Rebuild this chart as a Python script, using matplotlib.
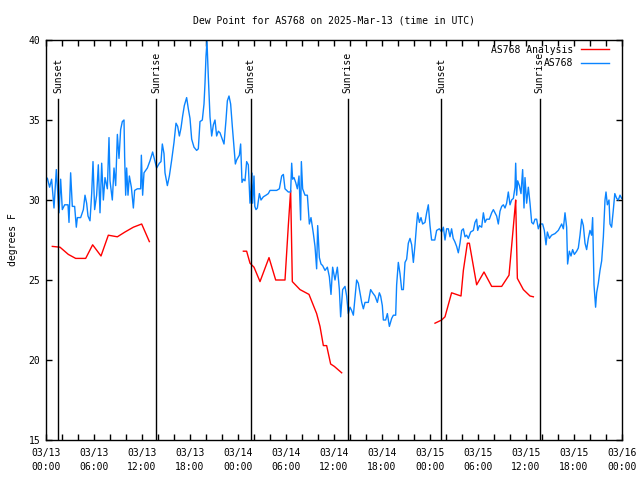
import matplotlib
matplotlib.use("Agg")
import matplotlib.pyplot as plt
from matplotlib.ticker import MultipleLocator

plt.rcParams['font.family'] = ['DejaVu Sans Mono']

title = "Dew Point for AS768 on 2025-Mar-13 (time in UTC)"
ylabel = "degrees F"

# hours since 2025-03-13 00:00 UTC
blue_hours = [0.0, 0.17, 0.45, 0.7, 1.0, 1.29, 1.625, 1.83, 2.04, 2.33, 2.75, 2.875, 3.08, 3.29, 3.58, 3.79, 3.92,
              4.33, 4.67, 4.875, 5.08, 5.25, 5.5, 5.71, 5.875, 6.08, 6.33, 6.54, 6.75, 6.96, 7.17, 7.375, 7.67,
              7.875, 8.0, 8.29, 8.5, 8.71, 8.92, 9.125, 9.33, 9.54, 9.75, 9.83, 9.96, 10.08, 10.25, 10.42, 10.67,
              10.92, 11.08, 11.42, 11.83, 11.92, 12.08, 12.25, 12.67, 13.0, 13.33, 13.625, 13.83, 14.17, 14.375,
              14.54, 14.75, 14.875, 15.17, 15.42, 15.71, 16.0, 16.25, 16.46, 16.67, 16.875, 17.08, 17.29, 17.58,
              17.79, 18.0, 18.21, 18.5, 18.83, 19.04, 19.25, 19.54, 19.75, 19.875, 20.0, 20.125, 20.29, 20.5,
              20.71, 20.92, 21.125, 21.33, 21.54, 21.75, 21.96, 22.25, 22.5, 22.67, 22.875, 23.08, 23.29, 23.5,
              23.67, 23.83, 24.17, 24.33, 24.5, 24.67, 24.875, 25.08, 25.29, 25.5, 25.625, 25.71, 25.83, 26.0,
              26.1, 26.25, 26.42, 26.67, 26.875, 27.17, 27.5, 27.79, 28.0, 28.42, 28.83, 29.17, 29.46, 29.67,
              29.875, 30.29, 30.58, 30.71, 30.83, 31.0, 31.21, 31.42, 31.625, 31.83, 31.92, 32.08, 32.375, 32.67,
              32.92, 33.125, 33.42, 33.625, 33.83, 33.96, 34.17, 34.375, 34.58, 34.875, 35.17, 35.42, 35.625,
              35.83, 36.125, 36.42, 36.67, 36.83, 37.08, 37.375, 37.58, 37.79, 38.0, 38.2, 38.42, 38.625, 38.83,
              39.04, 39.25, 39.46, 39.67, 39.875, 40.29, 40.58, 40.83, 41.125, 41.42, 41.67, 41.83, 42.04, 42.17,
              42.46, 42.67, 42.92, 43.21, 43.42, 43.71, 43.83, 44.04, 44.25, 44.46, 44.67, 44.875, 45.08, 45.29,
              45.5, 45.71, 45.92, 46.125, 46.33, 46.46, 46.67, 46.875, 47.08, 47.375, 47.58, 47.79, 48.0, 48.2,
              48.6, 48.83, 49.17, 49.46, 49.67, 49.875, 50.08, 50.29, 50.5, 50.7, 50.9, 51.1, 51.33, 51.54, 51.75,
              51.96, 52.17, 52.375, 52.58, 52.79, 53.08, 53.42, 53.625, 53.83, 53.96, 54.17, 54.46, 54.67, 54.875,
              55.08, 55.42, 55.71, 55.92, 56.125, 56.33, 56.54, 56.75, 56.96, 57.17, 57.375, 57.58, 57.79, 58.0,
              58.2, 58.42, 58.625, 58.71, 58.83, 58.96, 59.17, 59.375, 59.58, 59.75, 59.875, 60.08, 60.29, 60.5,
              60.71, 60.92, 61.125, 61.33, 61.54, 61.75, 62.08, 62.29, 62.5, 62.67, 62.92, 63.2, 63.625, 64.04,
              64.46, 64.67, 64.875, 65.08, 65.2, 65.42, 65.625, 65.83, 66.04, 66.33, 66.54, 66.75, 66.96, 67.17,
              67.375, 67.58, 67.79, 68.0, 68.2, 68.33, 68.5, 68.7, 68.83, 69.04, 69.25, 69.46, 69.67, 69.875,
              70.0, 70.17, 70.375, 70.5, 70.7, 70.9, 71.1, 71.33, 71.54, 71.75, 71.96]
blue_vals = [31.4, 31.36, 30.8, 31.3, 29.5, 31.9, 29.2, 31.3, 29.4, 29.7, 29.7, 28.6, 31.7, 29.6, 29.6, 28.3, 28.9,
             28.9, 29.4, 30.3, 29.8, 29.0, 28.7, 30.4, 32.4, 29.4, 30.3, 32.2, 29.2, 32.3, 30.0, 31.4, 30.7,
             33.9, 31.2, 30.0, 32.0, 30.9, 34.1, 32.6, 34.4, 34.9, 35.0, 32.7, 30.3, 32.0, 30.3, 31.5, 30.8,
             29.5, 30.6, 30.7, 30.7, 32.8, 30.3, 31.7, 32.0, 32.45, 33.0, 32.4, 32.0, 32.3, 32.4,
             33.5, 32.9, 31.7, 30.9, 31.5, 32.5, 33.6, 34.8, 34.6, 34.0, 34.5, 35.25, 35.9, 36.4,
             35.7, 35.1, 33.8, 33.3, 33.1, 33.2, 34.9, 35.0, 36.0, 37.3, 39.0, 39.9, 37.7, 35.2,
             34.0, 34.7, 35.0, 34.0, 34.3, 34.2, 33.9, 33.5, 35.0, 36.2, 36.5, 36.0, 34.6, 33.3,
             32.25, 32.5, 32.8, 33.5, 31.1, 31.3, 31.2, 32.4, 32.2, 29.8, 30.6, 31.7, 29.8, 31.5,
             29.6, 29.4, 29.5, 30.4, 30.0, 30.2, 30.3, 30.4, 30.6, 30.6, 30.6, 30.7, 31.5, 31.6,
             30.7, 30.5, 30.5, 32.3, 31.3, 31.4, 31.1, 30.7, 31.5, 28.75, 32.4, 30.7, 30.3, 30.3,
             28.5, 28.9, 27.9, 27.1, 25.7, 28.4, 26.4, 26.0, 25.9, 25.6, 25.8, 25.2, 24.1,
             25.8, 25.0, 25.8, 24.4, 22.7, 24.4, 24.6, 24.0, 22.9, 23.3, 23.1, 22.8, 23.9, 25.0,
             24.8, 24.2, 23.6, 23.2, 23.6, 23.6, 24.4, 24.2, 24.0, 23.6, 24.2, 24.0, 23.4, 22.5,
             22.5, 22.9, 22.1, 22.6, 22.8, 22.8, 24.7, 26.1, 25.4, 24.4, 24.4, 26.1, 26.3, 27.3,
             27.6, 27.2, 26.1, 27.2, 28.5, 29.2, 28.6, 28.9, 28.5, 28.6, 29.2, 29.7, 28.4, 27.5,
             27.5, 28.1, 28.2, 28.0, 28.3, 27.5, 28.2, 28.2, 27.7, 28.2, 27.6, 27.4, 27.1, 26.7, 27.3,
             28.1, 28.2, 27.7, 27.8, 27.6, 28.0, 28.1, 28.6, 28.8, 28.1, 28.4, 28.3, 29.2, 28.6,
             28.8, 28.8, 29.2, 29.4, 29.2, 29.0, 28.5, 29.3, 29.6, 29.7, 29.5, 29.8, 30.5, 29.7,
             30.0, 30.1, 30.8, 32.3, 30.3, 31.2, 30.9, 30.4, 31.9, 29.5, 31.4, 29.8, 30.8, 29.8,
             28.6, 28.5, 28.8, 28.8, 28.2, 28.5, 28.5, 28.1, 27.2, 28.0, 27.6, 27.8, 27.9, 28.1,
             28.5, 28.2, 29.2, 28.3, 26.0, 26.8, 26.5, 26.9, 26.6, 26.8, 27.0, 27.8, 28.8, 28.4,
             27.3, 26.9, 27.6, 28.1, 27.8, 28.9, 24.7, 23.3, 24.2, 24.8, 25.6, 26.2, 27.7, 30.0,
             30.5, 29.7, 30.0, 28.5, 28.3, 29.3, 30.4, 30.1, 30.0, 30.3, 30.1]

red1_hours = [0.79, 1.75, 2.79, 3.71, 4.96, 5.83, 6.875, 7.79, 8.92, 9.875, 10.92, 11.96, 12.92]
red1_vals = [27.1, 27.05, 26.6, 26.35, 26.35, 27.2, 26.5, 27.8, 27.7, 28.0, 28.3, 28.5, 27.4]

red2_hours = [24.67, 25.08, 25.5, 26.0, 26.75, 27.875, 28.71, 29.875, 30.29, 30.58, 30.79, 31.75, 32.875,
              33.83, 34.25, 34.67, 35.08, 35.58, 36.04, 36.96]
red2_vals = [26.8, 26.8, 26.05, 25.8, 24.9, 26.4, 25.0, 25.0, 28.4, 30.6, 24.9, 24.4, 24.1,
             22.9, 22.1, 20.9, 20.9, 19.75, 19.6, 19.2]

red3_hours = [48.625, 49.46, 49.875, 50.7, 51.875, 52.17, 52.67, 52.92, 53.83, 54.75, 55.71, 56.96, 57.875,
              58.2, 58.625, 58.71, 58.92, 59.67, 60.5, 60.92]
red3_vals = [22.3, 22.5, 22.7, 24.2, 24.0, 25.6, 27.3, 27.3, 24.7, 25.5, 24.6, 24.6, 25.3,
             27.1, 29.5, 30.0, 25.1, 24.4, 24.0, 23.95]

sun_hours = [1.54, 13.8, 25.6, 37.7, 49.4, 61.7]
sun_labels = ["Sunset", "Sunrise", "Sunset", "Sunrise", "Sunset", "Sunrise"]

xtick_hours = [0, 6, 12, 18, 24, 30, 36, 42, 48, 54, 60, 66, 72]
xtick_labels = ["03/13\n00:00", "03/13\n06:00", "03/13\n12:00", "03/13\n18:00",
                "03/14\n00:00", "03/14\n06:00", "03/14\n12:00", "03/14\n18:00",
                "03/15\n00:00", "03/15\n06:00", "03/15\n12:00", "03/15\n18:00",
                "03/16\n00:00"]
yticks = [15, 20, 25, 30, 35, 40]

RED = "#ff0000"
BLUE = "#0a84ff"
FS = 7

fig = plt.figure(figsize=(6.4, 4.8), dpi=100)
ax = fig.add_axes([46/640, 1-440/480, 576/640, 400/480])

ax.plot(red1_hours, red1_vals, color=RED, lw=1.0, label="AS768 Analysis")
ax.plot(red2_hours, red2_vals, color=RED, lw=1.0)
ax.plot(red3_hours, red3_vals, color=RED, lw=1.0)
ax.plot(blue_hours, blue_vals, color=BLUE, lw=1.0, label="AS768")

for h, lab in zip(sun_hours, sun_labels):
    ax.plot([h, h], [15, 36.3], color="black", lw=1.0)
    ax.text(h, 36.7, lab, rotation=90, ha="center", va="bottom", fontsize=FS)

ax.set_xlim(0, 72)
ax.set_ylim(15, 40)
ax.set_xticks(xtick_hours)
ax.set_xticklabels(xtick_labels, fontsize=FS, linespacing=1.5)
ax.xaxis.set_minor_locator(MultipleLocator(2))
ax.set_yticks(yticks)
ax.set_yticklabels([str(v) for v in yticks], fontsize=FS)
ax.tick_params(which="both", direction="in", top=True, right=True, length=4, width=1, pad=4)
ax.tick_params(axis="x", which="both", pad=6)
for s in ax.spines.values():
    s.set_linewidth(1)
ax.set_ylabel(ylabel, fontsize=FS, labelpad=8)
ax.set_title(title, fontsize=FS, pad=12)

leg = ax.legend(loc="upper right", bbox_to_anchor=(1 - 8/576, 1.0), frameon=False,
                markerfirst=False, fontsize=FS,
                handlelength=2.9, handletextpad=0.75, labelspacing=0.35,
                borderaxespad=0.2, borderpad=0.3)

fig.savefig("out.png", dpi=100)
